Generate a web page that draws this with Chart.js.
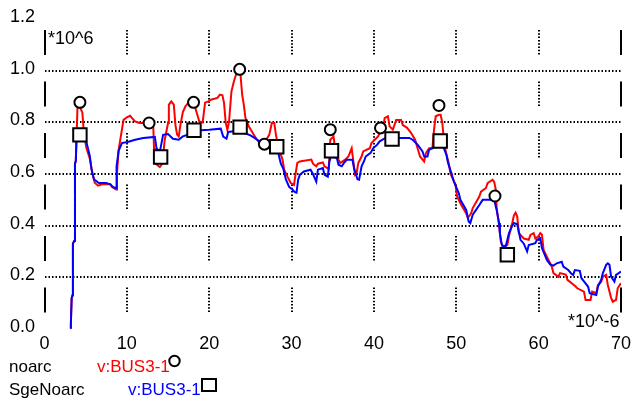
<!DOCTYPE html>
<html>
<head>
<meta charset="utf-8">
<script src="https://cdn.jsdelivr.net/npm/chart.js@4.4.0/dist/chart.umd.min.js"></script>
<style>
  body { margin: 0; background: #fff; }
</style>
</head>
<body>
<canvas id="myChart" width="635" height="401"></canvas>
<script>
// ejes
const xTickValues = [0, 10, 20, 30, 40, 50, 60, 70];
const xTickLabels = ["0", "10", "20", "30", "40", "50", "60", "70"];
const yTickValues = [0, 0.2, 0.4, 0.6, 0.8, 1.0, 1.2];
const yTickLabels = ["0.0", "0.2", "0.4", "0.6", "0.8", "1.0", "1.2"];

// serie noarc (rojo), tiempo en us, tension en MV
const noarcT = [3.1, 3.2, 3.3, 3.4, 3.45, 3.6, 3.7, 3.8, 3.9, 4.0, 4.3, 4.6, 4.8, 5.1, 5.5, 5.8, 6.1, 6.5, 7.0, 8.0,
  8.2, 8.7, 8.8, 9.0, 9.4, 9.6, 10.0, 10.4, 10.6, 11.0, 11.5, 12.4, 13.0, 13.2, 13.3, 13.4, 14.0, 14.3, 14.6, 15.0,
  15.1, 15.4, 15.7, 15.9, 16.1, 16.3, 16.5, 16.8, 17.1, 17.6, 17.9, 18.3, 18.8, 19.2, 19.5, 19.9, 20.2, 21.0, 21.3, 21.6,
  21.8, 22.0, 22.2, 22.4, 22.7, 23.0, 23.3, 23.6, 23.8, 24.0, 24.2, 24.4, 24.8, 25.4, 25.8, 26.3, 26.7, 27.3, 27.6, 27.9,
  28.1, 28.3, 28.5, 28.9, 29.1, 29.5, 29.9, 30.3, 30.5, 30.7, 31.0, 32.4, 32.6, 33.0, 33.2, 33.8, 34.0, 34.5, 34.7, 35.1,
  35.3, 35.7, 35.9, 36.5, 36.9, 37.3, 37.5, 37.7, 37.9, 38.1, 38.5, 38.7, 39.5, 39.7, 40.5, 40.7, 41.1, 41.3, 41.7, 41.9,
  42.3, 42.7, 43.3, 43.5, 44.0, 44.5, 45.0, 45.3, 45.6, 46.1, 46.3, 46.7, 47.1, 47.3, 47.5, 47.9, 48.1, 48.3, 48.5, 48.7,
  49.1, 49.3, 49.9, 50.1, 50.6, 51.2, 51.4, 51.8, 52.0, 52.8, 53.0, 53.6, 53.8, 54.4, 54.6, 54.8, 54.9, 55.2, 55.4, 55.6,
  56.2, 56.4, 56.8, 57.0, 57.2, 57.4, 57.6, 58.2, 58.8, 59.0, 59.4, 59.6, 60.0, 60.2, 60.4, 60.6, 61.0, 61.2, 61.6, 61.8,
  62.4, 62.6, 63.3, 63.5, 64.5, 64.7, 65.5, 65.7, 66.3, 66.5, 67.0, 67.2, 67.6, 67.8, 68.2, 68.4, 68.8, 69.0, 69.4, 69.6,
  70.0];
const noarcV = [0.0, 0.02, 0.12, 0.13, 0.33, 0.34, 0.64, 0.65, 0.75, 0.856, 0.86, 0.838, 0.75, 0.70, 0.66, 0.605, 0.566, 0.555, 0.56, 0.56,
  0.55, 0.54, 0.60, 0.694, 0.772, 0.81, 0.82, 0.826, 0.818, 0.804, 0.798, 0.798, 0.798, 0.79, 0.70, 0.643, 0.627, 0.64, 0.733, 0.798,
  0.869, 0.882, 0.869, 0.79, 0.753, 0.746, 0.79, 0.84, 0.862, 0.882, 0.888, 0.857, 0.804, 0.80, 0.877, 0.882, 0.888, 0.895, 0.908, 0.905,
  0.876, 0.80, 0.772, 0.80, 0.92, 0.96, 0.99, 0.998, 0.986, 0.908, 0.869, 0.817, 0.785, 0.753, 0.733, 0.714, 0.72, 0.753, 0.798, 0.798,
  0.753, 0.72, 0.694, 0.656, 0.617, 0.59, 0.565, 0.558, 0.604, 0.643, 0.649, 0.656, 0.64, 0.63, 0.64, 0.645, 0.63, 0.62, 0.733, 0.746,
  0.694, 0.656, 0.643, 0.656, 0.668, 0.70, 0.65, 0.597, 0.604, 0.643, 0.668, 0.688, 0.70, 0.72, 0.746, 0.759, 0.772, 0.817, 0.824, 0.785,
  0.772, 0.81, 0.81, 0.79, 0.78, 0.76, 0.733, 0.70, 0.668, 0.649, 0.68, 0.70, 0.70, 0.772, 0.824, 0.83, 0.83, 0.80, 0.733, 0.69,
  0.64, 0.60, 0.56, 0.513, 0.48, 0.448, 0.43, 0.448, 0.468, 0.513, 0.532, 0.546, 0.565, 0.578, 0.57, 0.54, 0.47, 0.40, 0.34, 0.319,
  0.325, 0.36, 0.41, 0.44, 0.45, 0.435, 0.371, 0.35, 0.345, 0.364, 0.371, 0.35, 0.36, 0.371, 0.365, 0.306, 0.28, 0.267, 0.241, 0.216,
  0.202, 0.216, 0.21, 0.19, 0.164, 0.157, 0.144, 0.112, 0.112, 0.144, 0.138, 0.17, 0.183, 0.202, 0.209, 0.17, 0.12, 0.105, 0.112, 0.157,
  0.177];

// serie SgeNoarc (azul)
const sgeT = [3.1, 3.2, 3.3, 3.4, 3.45, 3.6, 3.7, 3.8, 3.9, 4.4, 4.9, 5.2, 5.5, 5.7, 6.0, 6.4, 6.6, 7.5, 8.0, 8.3,
  8.7, 8.75, 9.0, 9.4, 10.2, 11.0, 12.0, 13.4, 13.6, 14.0, 14.4, 15.0, 15.6, 16.3, 16.8, 17.5, 18.5, 19.0, 20.0, 21.4,
  21.7, 22.1, 22.3, 23.0, 23.8, 24.3, 25.0, 25.5, 26.1, 26.7, 27.3, 27.9, 28.4, 28.7, 29.0, 29.3, 29.7, 30.1, 30.4, 30.6,
  30.8, 31.0, 31.5, 32.3, 32.6, 33.0, 33.2, 33.8, 34.0, 34.4, 34.6, 34.8, 35.5, 35.7, 36.1, 36.4, 36.7, 37.4, 37.6, 38.0,
  38.2, 38.5, 38.8, 39.0, 39.6, 39.9, 40.4, 40.7, 41.4, 42.0, 43.0, 44.3, 44.7, 45.3, 45.9, 46.1, 46.5, 46.7, 47.5, 47.9,
  48.4, 48.8, 49.0, 49.4, 49.7, 50.3, 50.5, 51.2, 51.5, 51.7, 52.0, 52.4, 52.8, 53.2, 54.6, 54.9, 55.2, 55.3, 55.5, 55.7,
  56.0, 56.4, 56.8, 57.0, 57.4, 57.8, 58.2, 58.6, 58.8, 59.6, 59.8, 60.2, 60.4, 61.0, 61.4, 61.8, 62.2, 62.8, 63.0, 63.6,
  64.0, 64.2, 64.4, 65.0, 65.2, 65.6, 66.0, 66.2, 67.0, 67.2, 67.6, 67.8, 68.2, 68.4, 68.6, 68.8, 69.2, 69.4, 70.0];
const sgeV = [0.0, 0.02, 0.12, 0.13, 0.33, 0.34, 0.64, 0.65, 0.75, 0.755, 0.75, 0.71, 0.67, 0.62, 0.58, 0.57, 0.565, 0.565, 0.56, 0.55,
  0.545, 0.63, 0.69, 0.72, 0.725, 0.733, 0.74, 0.744, 0.70, 0.685, 0.752, 0.755, 0.737, 0.733, 0.746, 0.753, 0.76, 0.77, 0.772, 0.776,
  0.745, 0.737, 0.763, 0.766, 0.77, 0.759, 0.75, 0.74, 0.727, 0.72, 0.70, 0.70, 0.68, 0.64, 0.62, 0.58, 0.55, 0.54, 0.53, 0.528,
  0.578, 0.597, 0.61, 0.617, 0.60, 0.571, 0.617, 0.623, 0.597, 0.59, 0.649, 0.668, 0.662, 0.636, 0.63, 0.645, 0.655, 0.655, 0.62, 0.58,
  0.578, 0.63, 0.65, 0.668, 0.682, 0.70, 0.714, 0.727, 0.74, 0.737, 0.74, 0.74, 0.733, 0.714, 0.688, 0.668, 0.668, 0.694, 0.707, 0.71,
  0.707, 0.675, 0.643, 0.604, 0.571, 0.526, 0.50, 0.461, 0.416, 0.41, 0.442, 0.461, 0.48, 0.50, 0.50, 0.461, 0.41, 0.37, 0.33, 0.319,
  0.319, 0.371, 0.40, 0.41, 0.405, 0.345, 0.33, 0.30, 0.325, 0.332, 0.345, 0.351, 0.313, 0.267, 0.25, 0.245, 0.254, 0.26, 0.241, 0.228,
  0.213, 0.209, 0.228, 0.225, 0.196, 0.18, 0.164, 0.138, 0.131, 0.164, 0.19, 0.216, 0.248, 0.254, 0.248, 0.202, 0.183, 0.209, 0.222];

// marcas de cada curva
const noarcMarkT = [4.3, 12.7, 18.1, 23.7, 26.7, 34.7, 40.8, 47.9, 54.7];
const noarcMarkV = [0.878, 0.798, 0.878, 1.006, 0.716, 0.772, 0.779, 0.866, 0.515];
const sgeMarkT = [4.3, 14.1, 18.15, 23.75, 28.2, 34.85, 42.2, 48.05, 56.2];
const sgeMarkV = [0.752, 0.666, 0.77, 0.782, 0.706, 0.69, 0.736, 0.728, 0.287];

const FUENTE = "'Liberation Sans', Arial, sans-serif";

function pares(ts, vs) {
  return ts.map((t, i) => ({ x: t, y: vs[i] }));
}

function cerca(a, b) { return Math.abs(a - b) < 1e-6; }

// punteado de las lineas verticales: tramos de puntos separados por huecos
const punteadoVertical = [];
for (let i = 0; i < 8; i++) {
  punteadoVertical.push(1.5, i < 7 ? 1.8 : 26.9);
}

// ejes discontinuos a izquierda y derecha, textos y leyenda
const decoracion = {
  id: "decoracion",
  afterDraw(chart) {
    const ctx = chart.ctx;
    const area = chart.chartArea;
    const sx = chart.scales.x;
    ctx.save();
    ctx.strokeStyle = "#000";
    ctx.lineWidth = 2;
    ctx.setLineDash([25, 26.5]);
    ctx.lineDashOffset = 40.8;
    for (const v of [xTickValues[0], xTickValues[xTickValues.length - 1]]) {
      const px = Math.round(sx.getPixelForValue(v));
      ctx.beginPath();
      ctx.moveTo(px, area.top);
      ctx.lineTo(px, area.bottom);
      ctx.stroke();
    }
    ctx.setLineDash([]);

    ctx.fillStyle = "#000";
    ctx.font = "18px " + FUENTE;
    ctx.textBaseline = "alphabetic";
    ctx.textAlign = "left";
    ctx.fillText("*10^6", 48, 44);
    ctx.fillText("*10^-6", 568, 326.5);

    ctx.font = "17px " + FUENTE;
    ctx.fillText("noarc", 9, 372);
    ctx.fillText("SgeNoarc", 9, 394.5);
    ctx.fillStyle = "#ff0000";
    ctx.fillText("v:BUS3-1", 97, 372);
    ctx.fillStyle = "#0000ff";
    ctx.fillText("v:BUS3-1", 128, 394.5);

    ctx.lineWidth = 2;
    ctx.strokeStyle = "#000";
    ctx.fillStyle = "#fff";
    ctx.beginPath();
    ctx.arc(174.5, 361, 5.2, 0, Math.PI * 2);
    ctx.fill();
    ctx.stroke();
    ctx.fillRect(202, 379, 14, 12);
    ctx.strokeRect(202, 379, 14, 12);
    ctx.restore();
  }
};

const grafica = document.getElementById("myChart").getContext("2d");

const myChart = new Chart(grafica, {
  type: "line",
  data: {
    datasets: [
      {
        label: "noarc marcas",
        type: "scatter",
        data: pares(noarcMarkT, noarcMarkV),
        showLine: false,
        pointStyle: "circle",
        pointRadius: 5.5,
        pointBorderWidth: 2,
        pointBorderColor: "#000",
        pointBackgroundColor: "#fff",
        order: 0
      },
      {
        label: "SgeNoarc marcas",
        type: "scatter",
        data: pares(sgeMarkT, sgeMarkV),
        showLine: false,
        pointStyle: "rect",
        pointRadius: 9.5,
        pointBorderWidth: 2,
        pointBorderColor: "#000",
        pointBackgroundColor: "#fff",
        order: 0
      },
      {
        label: "SgeNoarc v:BUS3-1",
        data: pares(sgeT, sgeV),
        borderColor: "#0000ff",
        borderWidth: 2,
        pointRadius: 0,
        tension: 0,
        fill: false,
        order: 1
      },
      {
        label: "noarc v:BUS3-1",
        data: pares(noarcT, noarcV),
        borderColor: "#ff0000",
        borderWidth: 2,
        pointRadius: 0,
        tension: 0,
        fill: false,
        order: 2
      }
    ]
  },
  options: {
    responsive: false,
    animation: false,
    devicePixelRatio: 1,
    layout: {
      padding: { left: 10, right: 12.5, top: 19.3, bottom: 0 }
    },
    plugins: {
      legend: { display: false },
      tooltip: { enabled: false }
    },
    scales: {
      x: {
        type: "linear",
        min: xTickValues[0],
        max: xTickValues[xTickValues.length - 1],
        afterBuildTicks: (s) => { s.ticks = xTickValues.map((v) => ({ value: v })); },
        afterFit: (s) => { s.height = 72.2; },
        border: { display: false, dash: punteadoVertical, dashOffset: 40.8 },
        grid: {
          drawTicks: false,
          lineWidth: 2,
          color: (c) => (c.tick && (cerca(c.tick.value, 0) || cerca(c.tick.value, 70))) ? "rgba(0,0,0,0)" : "#000"
        },
        ticks: {
          padding: 4,
          color: "#000",
          font: { family: FUENTE, size: 18 },
          callback: (v, i) => xTickLabels[i]
        }
      },
      y: {
        type: "linear",
        min: yTickValues[0],
        max: yTickValues[yTickValues.length - 1],
        afterBuildTicks: (s) => { s.ticks = yTickValues.map((v) => ({ value: v })); },
        afterFit: (s) => { s.width = 34.5; },
        border: { display: false, dash: [1.5, 2] },
        grid: {
          drawTicks: false,
          lineWidth: 2,
          color: (c) => (c.tick && (cerca(c.tick.value, 0) || cerca(c.tick.value, 1.2))) ? "rgba(0,0,0,0)" : "#000"
        },
        ticks: {
          crossAlign: "far",
          labelOffset: -2,
          color: "#000",
          font: { family: FUENTE, size: 18 },
          callback: (v, i) => yTickLabels[i]
        }
      }
    }
  },
  plugins: [decoracion]
});
</script>
</body>
</html>
